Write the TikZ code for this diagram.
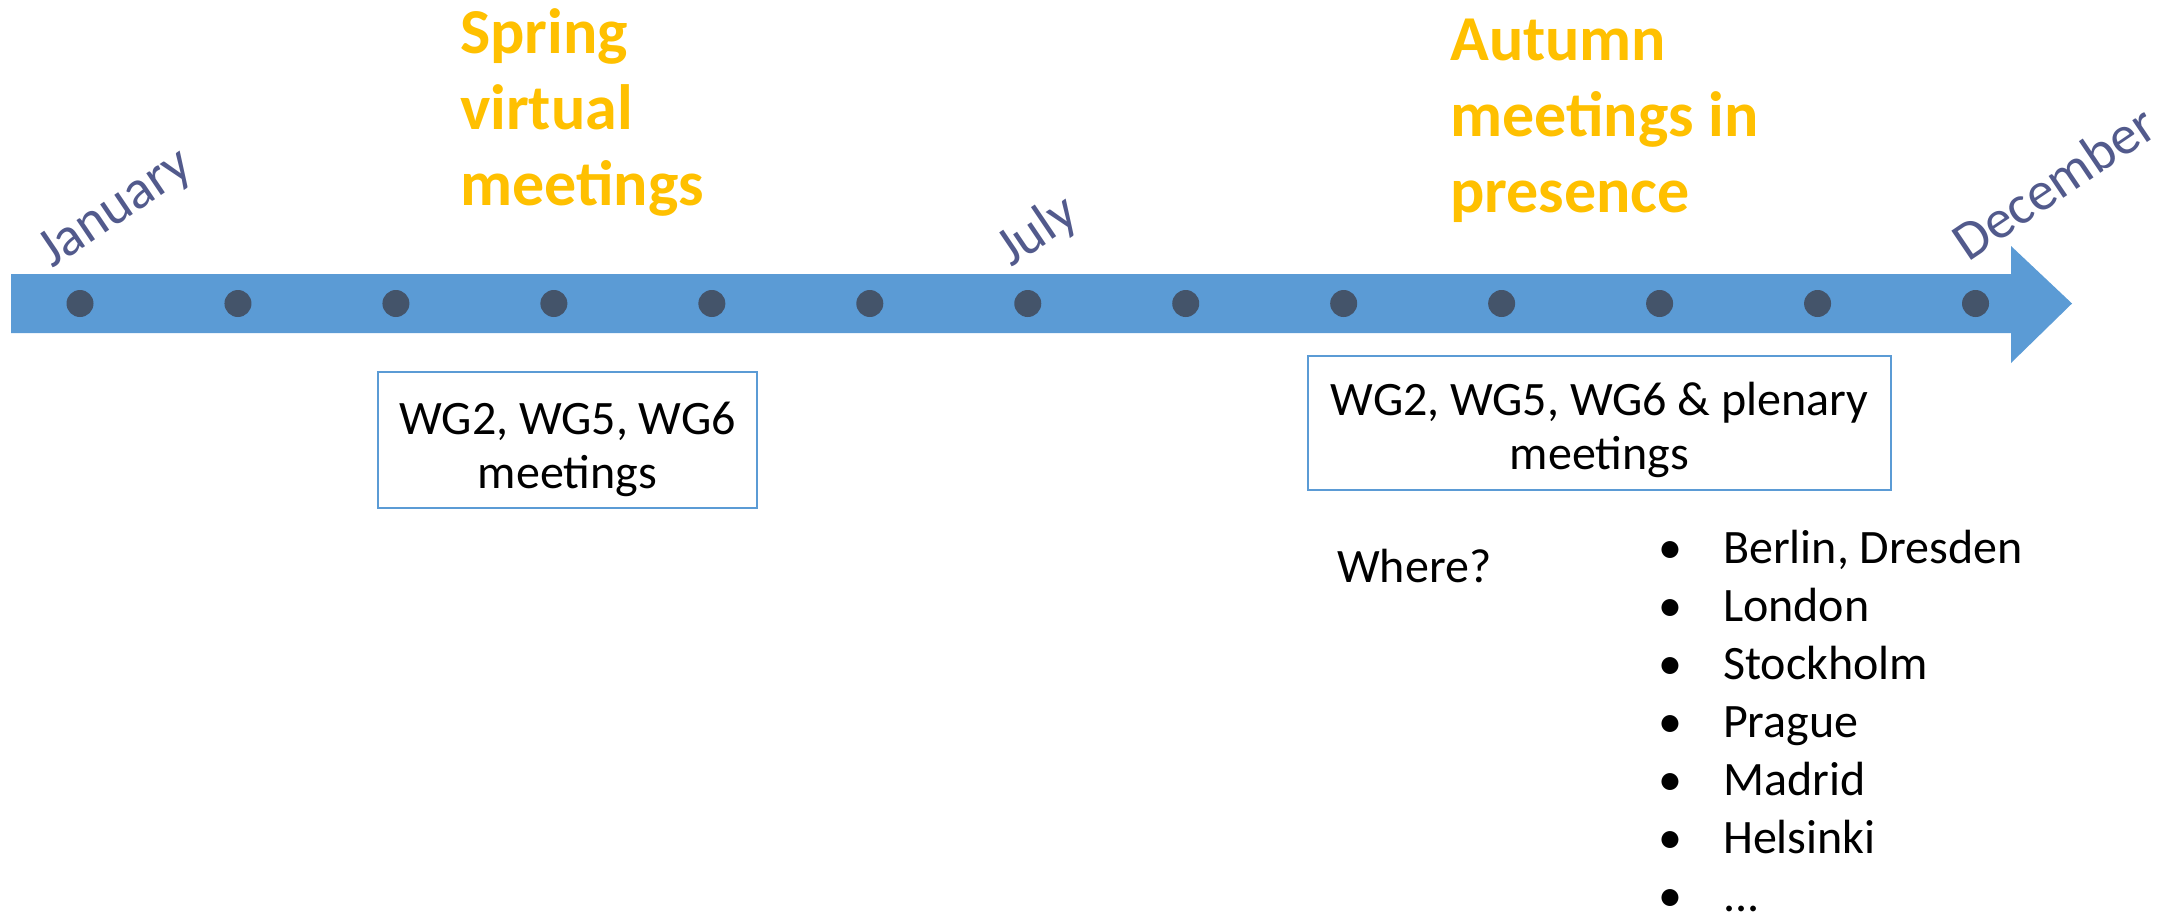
\documentclass[tikz,border=0pt]{standalone}
\usepackage{fontspec}
\setmainfont{Carlito}
\definecolor{barblue}{RGB}{91,155,213}
\definecolor{dotgray}{RGB}{68,84,106}
\definecolor{monthcol}{RGB}{82,90,140}
\definecolor{titlegold}{RGB}{255,192,0}
\tikzset{
  tick/.style={circle,fill=dotgray,minimum size=27pt,inner sep=0pt},
  month/.style={font=\fontsize{55}{66}\selectfont,text=monthcol,rotate=34,anchor=base west,inner sep=0pt},
  season/.style={font=\bfseries\fontsize{64}{76}\selectfont,text=titlegold,align=left,anchor=base west,inner sep=0pt},
  meetbox/.style={draw=barblue,line width=2pt,inner sep=0pt},
  boxtext/.style={font=\fontsize{48}{54}\selectfont,align=center,inner sep=0pt},
  plain/.style={font=\fontsize{48}{58}\selectfont,anchor=base west,inner sep=0pt}
}
\begin{document}
\begin{tikzpicture}[x=1pt,y=-1pt]
\useasboundingbox (0,0) rectangle (2170,913);
% timeline arrow
\fill[barblue] (11,274) -- (2011,274) -- (2011,246) -- (2072,303.5) -- (2011,363) -- (2011,333) -- (11,333) -- cycle;
% month ticks
\foreach \i in {0,...,12}{
  \node[tick] (m\i) at ({80+157.96*\i},303.5) {};
}
% month names
\node[month] (jan) at (52,269) {January};
\node[month] (jul) at (1011,268) {July};
\node[month] (dec) at (1968,263) {December};
% season titles (anchored at the baseline of the last line)
\node[season] (spring) at (460,205) {Spring\\virtual\\meetings};
\node[season] (autumn) at (1450,212) {Autumn\\meetings in\\presence};
% meeting boxes
\node[meetbox,minimum width=379pt,minimum height=136pt] (box1) at (567.5,440) {};
\node[boxtext] (box1text) at ([yshift=-9pt]box1.center) {WG2, WG5, WG6\\meetings};
\node[meetbox,minimum width=583pt,minimum height=134pt] (box2) at (1599.5,423) {};
\node[boxtext] (box2text) at ([yshift=-7pt]box2.center) {WG2, WG5, WG6 \& plenary\\meetings};
% candidate venues
\node[plain] (where) at (1337,582) {Where?};
\node[plain] (venues) at (1658,563) {%
  \begin{tabular}[t]{@{}l@{\hspace{41pt}}l@{}}
  \textbullet & Berlin, Dresden\\
  \textbullet & London\\
  \textbullet & Stockholm\\
  \textbullet & Prague\\
  \textbullet & Madrid\\
  \textbullet & Helsinki\\
  \textbullet & ...
  \end{tabular}};
\end{tikzpicture}
\end{document}
